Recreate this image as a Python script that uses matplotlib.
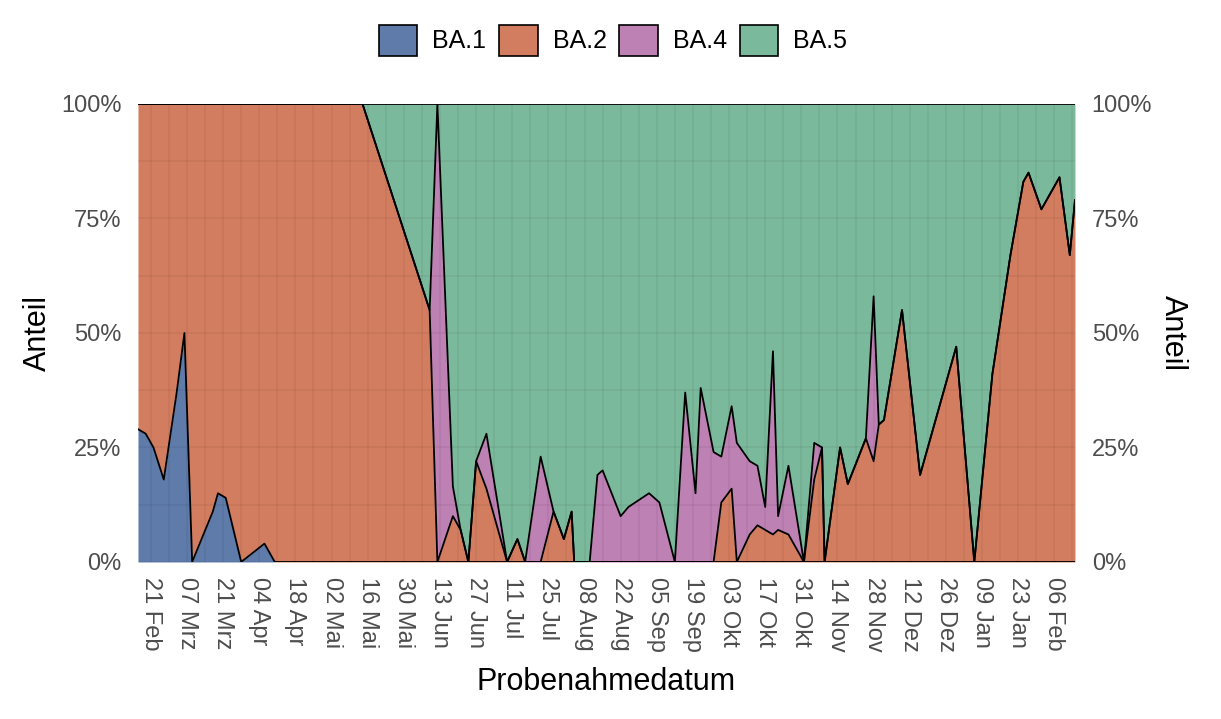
import numpy as np
import pandas as pd
import matplotlib
matplotlib.use("Agg")
import matplotlib.pyplot as plt
from matplotlib.patches import Patch
from matplotlib.ticker import FixedLocator

plt.rcParams['font.family'] = ['Liberation Sans', 'DejaVu Sans']

# sample dates and variant shares (percent)
dates = [
    "2022-02-16", "2022-02-19", "2022-02-22", "2022-02-26", "2022-03-03", "2022-03-06",
    "2022-03-09", "2022-03-17", "2022-03-19", "2022-03-22", "2022-03-28", "2022-04-06",
    "2022-04-10", "2022-05-14", "2022-06-09", "2022-06-12", "2022-06-18", "2022-06-21",
    "2022-06-24", "2022-06-27", "2022-07-01", "2022-07-09", "2022-07-13", "2022-07-16",
    "2022-07-22", "2022-07-27", "2022-07-31", "2022-08-03", "2022-08-04", "2022-08-10",
    "2022-08-13", "2022-08-15", "2022-08-22", "2022-08-25", "2022-09-02", "2022-09-06",
    "2022-09-12", "2022-09-16", "2022-09-20", "2022-09-22", "2022-09-27", "2022-09-30",
    "2022-10-04", "2022-10-06", "2022-10-11", "2022-10-14", "2022-10-17", "2022-10-20",
    "2022-10-22", "2022-10-26", "2022-11-01", "2022-11-05", "2022-11-08", "2022-11-09",
    "2022-11-15", "2022-11-18", "2022-11-25", "2022-11-28", "2022-11-30", "2022-12-02",
    "2022-12-09", "2022-12-16", "2022-12-30", "2023-01-06", "2023-01-13", "2023-01-20",
    "2023-01-25", "2023-01-27", "2023-02-01", "2023-02-08", "2023-02-12", "2023-02-14",
]
ba1 = [29, 28, 25, 18, 37, 50, 0, 11, 15, 14, 0, 4,
       0, 0, 0, 0, 0, 0, 0, 0, 0, 0, 0, 0,
       0, 0, 0, 0, 0, 0, 0, 0, 0, 0, 0, 0,
       0, 0, 0, 0, 0, 0, 0, 0, 0, 0, 0, 0,
       0, 0, 0, 0, 0, 0, 0, 0, 0, 0, 0, 0,
       0, 0, 0, 0, 0, 0, 0, 0, 0, 0, 0, 0]
ba2 = [71, 72, 75, 82, 63, 50, 100, 89, 85, 86, 100, 96,
       100, 100, 55, 0, 10, 7, 0, 22, 16, 0, 5, 0,
       0, 11, 5, 11, 0, 0, 0, 0, 0, 0, 0, 0,
       0, 0, 0, 0, 0, 13, 16, 0, 6, 8, 7, 6,
       7, 6, 0, 18, 25, 0, 25, 17, 27, 22, 30, 31,
       55, 19, 47, 0, 41, 67, 83, 85, 77, 84, 67, 79]
ba4 = [0, 0, 0, 0, 0, 0, 0, 0, 0, 0, 0, 0,
       0, 0, 0, 100, 6.5, 0, 0, 0, 12, 0, 0, 0,
       23, 0, 0, 0, 0, 0, 19, 20, 10, 12, 15, 13,
       0, 37, 15, 38, 24, 10, 18, 26, 16, 13, 5, 40,
       3, 15, 0, 8, 0, 0, 0, 0, 0, 36, 0, 0,
       0, 0, 0, 0, 0, 0, 0, 0, 0, 0, 0, 0]
ba5 = [0, 0, 0, 0, 0, 0, 0, 0, 0, 0, 0, 0,
       0, 0, 45, 0, 83.5, 93, 100, 78, 72, 100, 95, 100,
       77, 89, 95, 89, 100, 100, 81, 80, 90, 88, 85, 87,
       100, 63, 85, 62, 76, 77, 66, 74, 78, 79, 88, 54,
       90, 79, 100, 74, 75, 100, 75, 83, 73, 42, 70, 69,
       45, 81, 53, 100, 59, 33, 17, 15, 23, 16, 33, 21]

variants = ["BA.1", "BA.2", "BA.4", "BA.5"]
colors = ["#5F7BAA", "#D27D60", "#BD81B4", "#7BB99D"]
months_de = ["Jan", "Feb", "Mrz", "Apr", "Mai", "Jun", "Jul", "Aug", "Sep", "Okt", "Nov", "Dez"]
y_ticks = [0, 25, 50, 75, 100]

x = pd.to_datetime(dates)
shares = np.array([ba1, ba2, ba4, ba5], dtype=float)
tops = np.cumsum(shares, axis=0)
bottoms = np.vstack([np.zeros(len(x)), tops[:-1]])

fig = plt.figure(figsize=(12.21, 7.19), dpi=100)
ax = fig.add_axes([0.113, 0.2184, 0.7674, 0.637])

for i in range(len(variants)):
    ax.fill_between(x, bottoms[i], tops[i], color=colors[i], linewidth=0, zorder=1)
for i in range(len(variants)):
    ax.plot(x, tops[i], color="black", linewidth=1.3, zorder=3)

ax.set_xlim(x[0], x[-1])
ax.set_ylim(0, 100)

major = pd.date_range("2022-02-21", "2023-02-06", freq="14D")
minor = pd.date_range("2022-02-14", "2023-02-13", freq="7D")
ax.xaxis.set_major_locator(FixedLocator(matplotlib.dates.date2num(major)))
ax.xaxis.set_minor_locator(FixedLocator(matplotlib.dates.date2num(minor)))
ax.set_xticklabels([f"{d.day:02d} {months_de[d.month - 1]}" for d in major],
                   rotation=270, ha="center", va="top")
ax.set_yticks(y_ticks)
ax.set_yticks([12.5, 37.5, 62.5, 87.5], minor=True)
ax.set_yticklabels([f"{v}%" for v in y_ticks])

ax.set_axisbelow(False)
ax.grid(which="both", color="black", alpha=0.05, linewidth=1.3)

for s in ax.spines.values():
    s.set_visible(False)
ax.tick_params(which="both", length=0, labelsize=17, labelcolor="#4D4D4D")
ax.tick_params(axis="y", pad=12)
ax.tick_params(axis="x", pad=11)

ax.set_xlabel("Probenahmedatum", fontsize=22)
ax.xaxis.set_label_coords(0.5, -0.23)
ax.set_ylabel("Anteil", fontsize=22, labelpad=6)

ax2 = ax.twinx()
ax2.set_ylim(0, 100)
ax2.set_yticks(y_ticks)
ax2.set_yticklabels([f"{v}%" for v in y_ticks])
for s in ax2.spines.values():
    s.set_visible(False)
ax2.tick_params(length=0, labelsize=17, labelcolor="#4D4D4D", pad=12)
ax2.set_ylabel("Anteil", fontsize=22, rotation=270, va="bottom", labelpad=4)

handles = [Patch(facecolor=c, edgecolor="black", linewidth=1.2) for c in colors]
fig.legend(handles, variants, loc="center", bbox_to_anchor=(0.502, 0.944), ncol=4,
           frameon=False, fontsize=18, handlelength=1.55, handleheight=1.55,
           handletextpad=0.6, columnspacing=0.5)

fig.savefig("out.png", dpi=100)
